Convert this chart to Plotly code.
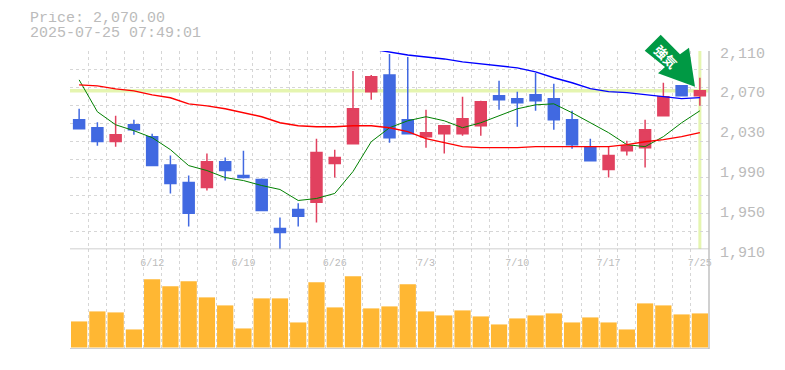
import plotly.graph_objects as go

dates = ["6/6","6/9","6/10","6/11","6/12","6/13","6/16","6/17","6/18","6/19","6/20","6/23","6/24","6/25","6/26","6/27","6/30","7/1","7/2","7/3","7/4","7/7","7/8","7/9","7/10","7/11","7/14","7/15","7/16","7/17","7/18","7/22","7/23","7/24","7/25"]
opens = [2040.6,2032.6,2018.6,2035.6,2023.6,1995,1977.3,1972.3,1998.4,1984.3,1980.3,1931,1950.2,1957.3,1996.4,2016.5,2068.8,2085.9,2040.6,2023.6,2026.6,2026.6,2034.6,2064.8,2061.8,2065.8,2061.8,2040.6,2012.5,1990.4,2009.5,2012.5,2044.7,2074.9,2064.8]
closes = [2031.6,2018.6,2025.6,2030.6,1994.4,1976.3,1946.2,1998.4,1989.4,1982.3,1949.2,1927,1943.2,2007.5,2002.5,2051.7,2083.9,2022.6,2026.6,2027.6,2034.6,2041.6,2058.8,2060.8,2057.8,2059.8,2040.6,2015.5,1999.4,2004.5,2014.5,2030.6,2063.8,2064.8,2070]
highs = [2051.7,2038,2044.6,2040.6,2026.6,2004.5,1984.3,2006.5,2002.5,2009.5,1981.3,1942,1956.3,2021.6,2010.5,2089.9,2085.9,2107,2104,2050.7,2034.6,2063.8,2059.8,2079.9,2068.8,2087.9,2076.9,2049.7,2021.6,2013.5,2019.5,2040.6,2077.9,2075,2082.9]
lows = [2031.6,2014.5,2013.5,2025.6,1994.4,1966.3,1933,1969.3,1979.3,1981.3,1949.2,1910,1933,1937,1982.3,2016.5,2060.8,2017.5,2026.6,2012.5,2006.5,2024.6,2024.6,2050.7,2033.6,2049.7,2030.6,2011.5,1999.4,1982.3,2004.5,1992.4,2044.7,2064.8,2054.7]
ma_short = [2080.9,2048.7,2035.6,2029.6,2022.6,2010.5,1994.4,1989.4,1982.3,1979.3,1974.3,1970.3,1959.2,1961.2,1966.3,1988.4,2018.5,2032.6,2039.6,2043.7,2039.6,2032.6,2037.6,2044.7,2051.7,2055.7,2056.7,2047.7,2037.6,2027.6,2015.5,2013.5,2023.6,2037.6,2049.7]
ma_mid = [2075.8,2074.8,2071.8,2069.8,2065.8,2062.8,2056.7,2054.7,2051.7,2047.7,2043.7,2037.6,2034.6,2033.6,2033.6,2034.6,2034.6,2032.6,2028.6,2021.6,2017.5,2013.5,2012.5,2012.5,2012.5,2013.5,2013.5,2013.5,2013.5,2013.5,2015.5,2018.5,2020.6,2023.6,2027.6]
ma_long = [None]*16 + [2112,2109,2106,2104,2102,2099,2097,2095,2093,2089,2083,2078,2072,2069,2068,2066,2064,2062,2063]
volume = [26,36,35,18,68,61,66,50,42,19,49,49,25,65,40,71,39,41,63,36,32,37,31,23,29,32,34,25,30,25,18,44,42,33,34]
last_price = 2070.0
price_ticks = [2110,2070,2030,1990,1950,1910]
date_ticks = ["6/12","6/19","6/26","7/3","7/10","7/17","7/25"]
header_lines = ["Price: 2,070.00", "2025-07-25 07:49:01"]
badge_text = "強気"

MONO = "Liberation Mono"
GRAY = "#c0c0c0"
GRID = "#d6d6d6"
BAND = "#e5f5b0"
idx = list(range(len(dates)))
n = len(dates)
PMIN, PMAX = 1910, 2110
grid_x = [i - 0.5 for i in range(n + 1)]
grid_y = [PMIN + (PMAX - PMIN) * i / 11 for i in range(12)]

fig = go.Figure()
for vals, col, w in ((ma_short, "#008000", 1), (ma_mid, "#ff0000", 1.4), (ma_long, "#0000ff", 1.4)):
    fig.add_trace(go.Scatter(x=idx, y=vals, mode="lines", line=dict(color=col, width=w),
                             cliponaxis=False, hoverinfo="skip", xaxis="x", yaxis="y"))
fig.add_trace(go.Candlestick(x=idx, open=opens, high=highs, low=lows, close=closes,
    increasing=dict(line=dict(color="#e1415f", width=1.5), fillcolor="#e1415f"),
    decreasing=dict(line=dict(color="#4169e1", width=1.5), fillcolor="#4169e1"),
    whiskerwidth=0, xaxis="x", yaxis="y"))
fig.add_trace(go.Bar(x=idx, y=volume, marker=dict(color="#ffb733", line_width=0), xaxis="x2", yaxis="y2"))

minor_grid = dict(showgrid=True, gridcolor=GRID, griddash="3px,3px", gridwidth=1, ticks="", tickmode="array")

annotations = [
    dict(xref="paper", yref="paper", x=0, y=1, xanchor="left", yanchor="middle", xshift=-41, yshift=yshift,
         showarrow=False, text=line, height=13, borderpad=0, font=dict(size=15, color="#bbbbbb", family=MONO))
    for line, yshift in zip(header_lines, (33, 18))
]
annotations += [
    dict(xref="paper", yref="y", x=1, y=v, xanchor="left", yanchor="middle", xshift=9,
         yshift=-(3 + (2110 - v) / 200), showarrow=False, text=f"{v:,}",
         font=dict(size=15, color="#bbbbbb", family=MONO))
    for v in price_ticks
]
annotations.append(
    dict(xref="paper", yref="paper", x=1, y=1, xanchor="center", yanchor="middle", xshift=-43, yshift=-5.5,
         showarrow=False, text=f"<b>{badge_text}</b>", textangle=45,
         font=dict(size=13, color="white", family="Noto Sans CJK JP"))
)

fig.update_layout(
    width=785, height=370, showlegend=False, paper_bgcolor="white", plot_bgcolor="white",
    margin=dict(l=70, r=76, t=51, b=21), bargap=0.11, boxgap=0.14,
    font=dict(family=MONO, color="#bbbbbb"),
    xaxis=dict(domain=[0, 1], range=[-0.5, n - 0.5], anchor="y", rangeslider=dict(visible=False),
               tickmode="array", tickvals=[dates.index(d) for d in date_ticks], ticktext=date_ticks,
               tickfont=dict(size=10, color="#bbbbbb", family=MONO), ticks="outside", ticklen=4,
               tickcolor="rgba(0,0,0,0)", showgrid=False, zeroline=False, showline=False,
               minor=dict(tickvals=grid_x, **minor_grid)),
    xaxis2=dict(domain=[0, 1], range=[-0.5, n - 0.5], anchor="y2", showticklabels=False, ticks="",
                showgrid=False, zeroline=False, showline=False,
                minor=dict(tickvals=grid_x, **minor_grid)),
    yaxis=dict(domain=[0.3347, 1], range=[PMIN, PMAX], anchor="x", side="right", showticklabels=False,
               ticks="", showgrid=False, zeroline=False, showline=False,
               minor=dict(tickvals=grid_y, **minor_grid)),
    yaxis2=dict(domain=[0, 0.3347], range=[-1.5, 98], anchor="x2", showticklabels=False, ticks="",
                showgrid=False, zeroline=False, showline=False),
    shapes=[
        dict(type="line", xref="paper", x0=0, x1=1, yref="y", y0=last_price, y1=last_price, layer="below", line=dict(color=BAND, width=3.5)),
        dict(type="line", xref="x", x0=n - 1, x1=n - 1, yref="y", y0=PMIN, y1=PMAX, layer="below", line=dict(color=BAND, width=3)),
        dict(type="line", xref="paper", x0=0, x1=1, yref="y", y0=PMIN, y1=PMIN, line=dict(color=GRAY, width=1.5)),
        dict(type="line", xref="paper", x0=0, x1=1, yref="y2", y0=-1.5, y1=-1.5, line=dict(color=GRAY, width=1.5)),
        dict(type="line", xref="paper", x0=1, x1=1, yref="paper", y0=0, y1=1, line=dict(color=GRAY, width=1.5)),
        dict(type="path", xref="paper", yref="paper", xsizemode="pixel", ysizemode="pixel", xanchor=1, yanchor=1,
             path="M -48.3 16.3 L -29 -3.3 L -20 3.3 L -14 -35.7 L -51 -22.3 L -44 -16 L -64.3 0.3 Z",
             fillcolor="#009944", line=dict(width=0), layer="above"),
    ],
    annotations=annotations,
)
fig.write_html("out.html", config=dict(displayModeBar=False), post_script="document.body.style.margin='0';")
